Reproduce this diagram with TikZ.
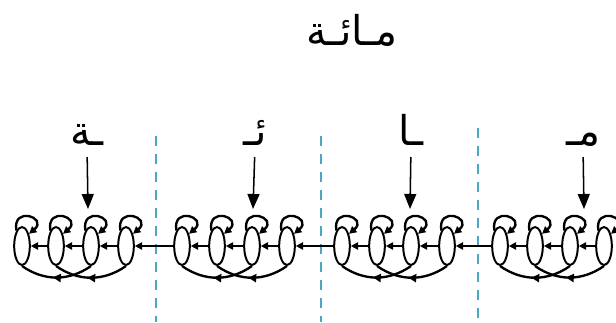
\documentclass[tikz,border=0pt]{standalone}
\usepackage{fontspec}
\newfontfamily\arabicfont[Script=Arabic]{DejaVu Sans}
\TeXXeTstate=1
\usetikzlibrary{arrows.meta,shapes.geometric,decorations.markings}
\definecolor{sepblue}{RGB}{75,168,196}
\begin{document}
\begin{tikzpicture}[x=0.03cm,y=0.03cm,
  state/.style={ellipse,draw,line width=1.7pt,minimum width=0.47cm,minimum height=1.14cm,inner sep=0pt},
  letter/.style={font=\arabicfont\fontsize{35}{35}\selectfont,inner sep=0pt,text depth=0pt,anchor=south},
  trans/.style={line width=2pt,-{Triangle[length=0.22cm,width=0.22cm]}},
  selfloop/.style={line width=2pt,-{Triangle[length=0.22cm,width=0.22cm]}},
  skip/.style={line width=2pt,postaction={decorate},
    decoration={markings,mark=at position 0.55 with {\arrow{Triangle[length=0.24cm,width=0.24cm]}}}},
  down/.style={line width=1.3pt,-{Triangle[length=0.45cm,width=0.36cm]}},
  sep/.style={sepblue,line width=1.5pt,dash pattern=on 0.3cm off 0.24cm}]
\useasboundingbox (0,0) rectangle (616,322);
% word and letters
\node[font=\arabicfont\fontsize{35}{35}\selectfont](w) at (352,292) {\beginR مـائـة\endR};
\node[letter](l1) at (87,176) {\beginR ـة\endR};
\node[letter](l2) at (255,176) {\beginR ئـ\endR};
\node[letter](l3) at (411,176) {\beginR ـا\endR};
\node[letter](l4) at (583,176) {\beginR مـ\endR};
\coordinate (t1) at (88,113);
\coordinate (t2) at (253,113);
\coordinate (t3) at (410,113);
\coordinate (t4) at (584,113);
% separators
\draw[sep] (156,186) -- (156,0);
\draw[sep] (321,186) -- (321,0);
\draw[sep] (478,194) -- (478,0);
% states
\node[state](s11) at (22,76) {};
\node[state](s12) at (56,76) {};
\node[state](s13) at (91,76) {};
\node[state](s14) at (126,76) {};
\node[state](s21) at (182,76) {};
\node[state](s22) at (217,76) {};
\node[state](s23) at (252,76) {};
\node[state](s24) at (287,76) {};
\node[state](s31) at (342,76) {};
\node[state](s32) at (377,76) {};
\node[state](s33) at (411,76) {};
\node[state](s34) at (447,76) {};
\node[state](s41) at (500,76) {};
\node[state](s42) at (535,76) {};
\node[state](s43) at (570,76) {};
\node[state](s44) at (604,76) {};
% transitions
\foreach \g in {1,...,4}{
  \draw[down,shorten <=0.33cm] (l\g.south) -- (t\g);
  \foreach \s in {1,...,4}
    \draw[selfloop] (s\g\s.110) to[out=100,in=40,looseness=5] (s\g\s.60);
  \draw[trans] (s\g2) -- (s\g1);
  \draw[trans] (s\g3) -- (s\g2);
  \draw[trans] (s\g4) -- (s\g3);
  \draw[skip] (s\g3.south) to[bend left=35] (s\g1.south);
  \draw[skip] (s\g4.south) to[bend left=35] (s\g2.south);
}
\draw[trans] (s21) -- (s14);
\draw[trans] (s31) -- (s24);
\draw[trans] (s41) -- (s34);
\end{tikzpicture}
\end{document}
